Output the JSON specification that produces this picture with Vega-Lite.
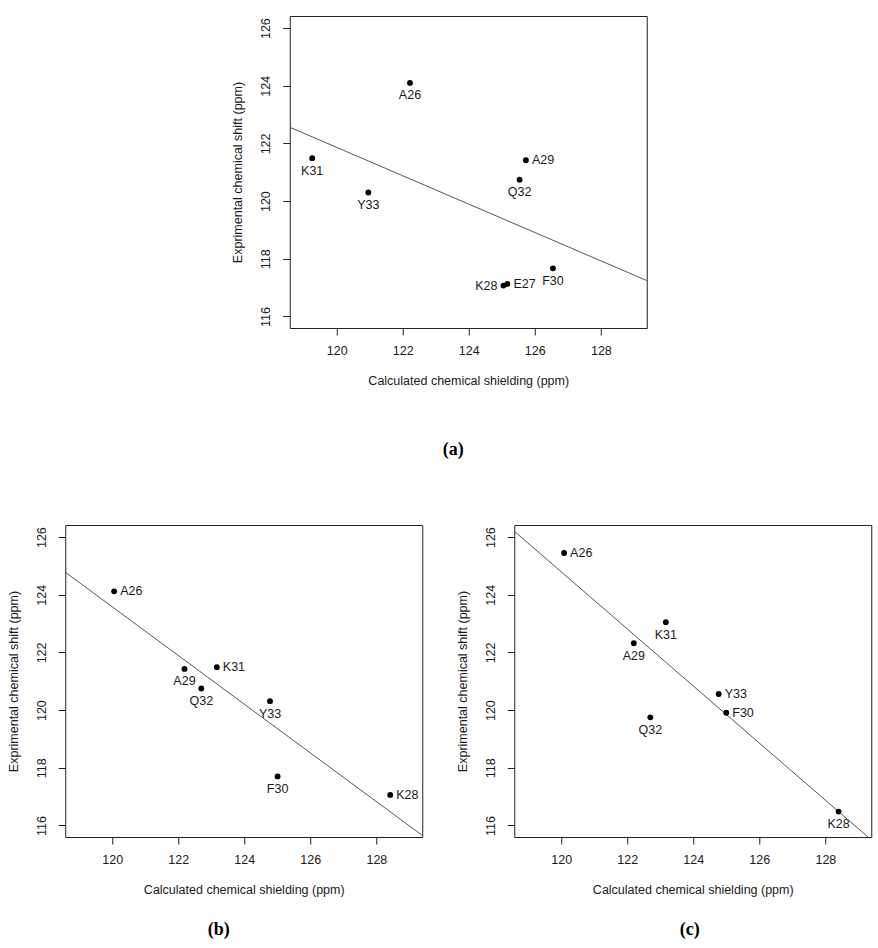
{
  "$schema": "https://vega.github.io/schema/vega-lite/v6.json",
  "padding": {"top": 15, "left": 6, "right": 4, "bottom": 4},
  "background": "white",
  "datasets": {
    "a": [
      {"res": "A26", "x": 122.22, "y": 124.10},
      {"res": "K31", "x": 119.26, "y": 121.49},
      {"res": "Y33", "x": 120.96, "y": 120.30},
      {"res": "A29", "x": 125.73, "y": 121.42},
      {"res": "Q32", "x": 125.54, "y": 120.74},
      {"res": "F30", "x": 126.55, "y": 117.67},
      {"res": "K28", "x": 125.05, "y": 117.07},
      {"res": "E27", "x": 125.17, "y": 117.13}
    ],
    "b": [
      {"res": "A26", "x": 120.06, "y": 124.12},
      {"res": "A29", "x": 122.19, "y": 121.43},
      {"res": "K31", "x": 123.17, "y": 121.49},
      {"res": "Q32", "x": 122.70, "y": 120.75},
      {"res": "Y33", "x": 124.78, "y": 120.31},
      {"res": "F30", "x": 125.01, "y": 117.70},
      {"res": "K28", "x": 128.42, "y": 117.06}
    ],
    "c": [
      {"res": "A26", "x": 120.09, "y": 125.45},
      {"res": "K31", "x": 123.17, "y": 123.05},
      {"res": "A29", "x": 122.20, "y": 122.32},
      {"res": "Y33", "x": 124.77, "y": 120.56},
      {"res": "F30", "x": 125.00, "y": 119.91},
      {"res": "Q32", "x": 122.70, "y": 119.75},
      {"res": "K28", "x": 128.40, "y": 116.48}
    ]
  },
  "vconcat": [
    {
      "width": 357,
      "height": 312,
      "data": {"name": "a"},
      "title": {"text": "(a)", "orient": "bottom", "anchor": "middle", "frame": "group", "dx": -15, "offset": 54, "baseline": "top"},
      "encoding": {
        "x": {"field": "x", "type": "quantitative", "scale": {"domain": [118.58, 129.39], "nice": false, "zero": false}, "axis": {"values": [120, 122, 124, 126, 128], "title": "Calculated chemical shielding (ppm)"}},
        "y": {"field": "y", "type": "quantitative", "scale": {"domain": [115.6, 126.42], "nice": false, "zero": false}, "axis": {"values": [116, 118, 120, 122, 124, 126], "title": "Exprimental chemical shift (ppm)"}}
      },
      "layer": [
        {"transform": [{"regression": "y", "on": "x", "extent": [118.58, 129.39]}], "mark": {"type": "line", "clip": true, "color": "#555555", "strokeWidth": 1}},
        {"mark": {"type": "circle", "size": 34, "color": "#000000", "opacity": 1}},
        {"transform": [{"filter": {"field": "res", "oneOf": ["A26", "K31", "Y33", "Q32", "F30"]}}], "mark": {"type": "text", "dy": 12.5, "align": "center", "baseline": "middle"}, "encoding": {"text": {"field": "res"}}},
        {"transform": [{"filter": {"field": "res", "oneOf": ["A29", "E27"]}}], "mark": {"type": "text", "dx": 6, "align": "left", "baseline": "middle"}, "encoding": {"text": {"field": "res"}}},
        {"transform": [{"filter": {"field": "res", "oneOf": ["K28"]}}], "mark": {"type": "text", "dx": -6, "align": "right", "baseline": "middle"}, "encoding": {"text": {"field": "res"}}}
      ]
    },
    {
      "spacing": 32,
      "hconcat": [
        {
          "width": 357,
          "height": 312,
          "data": {"name": "b"},
          "title": {"text": "(b)", "orient": "bottom", "anchor": "middle", "frame": "group", "dx": -25, "offset": 25, "baseline": "top"},
          "encoding": {
            "x": {"field": "x", "type": "quantitative", "scale": {"domain": [118.58, 129.39], "nice": false, "zero": false}, "axis": {"values": [120, 122, 124, 126, 128], "title": "Calculated chemical shielding (ppm)"}},
            "y": {"field": "y", "type": "quantitative", "scale": {"domain": [115.6, 126.42], "nice": false, "zero": false}, "axis": {"values": [116, 118, 120, 122, 124, 126], "title": "Exprimental chemical shift (ppm)"}}
          },
          "layer": [
            {"transform": [{"regression": "y", "on": "x", "extent": [118.58, 129.39]}], "mark": {"type": "line", "clip": true, "color": "#555555", "strokeWidth": 1}},
            {"mark": {"type": "circle", "size": 34, "color": "#000000", "opacity": 1}},
            {"transform": [{"filter": {"field": "res", "oneOf": ["A29", "Q32", "Y33", "F30"]}}], "mark": {"type": "text", "dy": 12.5, "align": "center", "baseline": "middle"}, "encoding": {"text": {"field": "res"}}},
            {"transform": [{"filter": {"field": "res", "oneOf": ["A26", "K31", "K28"]}}], "mark": {"type": "text", "dx": 6, "align": "left", "baseline": "middle"}, "encoding": {"text": {"field": "res"}}}
          ]
        },
        {
          "width": 357,
          "height": 312,
          "data": {"name": "c"},
          "title": {"text": "(c)", "orient": "bottom", "anchor": "middle", "frame": "group", "dx": -3, "offset": 25, "baseline": "top"},
          "encoding": {
            "x": {"field": "x", "type": "quantitative", "scale": {"domain": [118.58, 129.39], "nice": false, "zero": false}, "axis": {"values": [120, 122, 124, 126, 128], "title": "Calculated chemical shielding (ppm)"}},
            "y": {"field": "y", "type": "quantitative", "scale": {"domain": [115.6, 126.42], "nice": false, "zero": false}, "axis": {"values": [116, 118, 120, 122, 124, 126], "title": "Exprimental chemical shift (ppm)"}}
          },
          "layer": [
            {"transform": [{"regression": "y", "on": "x", "extent": [118.58, 129.39]}], "mark": {"type": "line", "clip": true, "color": "#555555", "strokeWidth": 1}},
            {"mark": {"type": "circle", "size": 34, "color": "#000000", "opacity": 1}},
            {"transform": [{"filter": {"field": "res", "oneOf": ["K31", "A29", "Q32", "K28"]}}], "mark": {"type": "text", "dy": 12.5, "align": "center", "baseline": "middle"}, "encoding": {"text": {"field": "res"}}},
            {"transform": [{"filter": {"field": "res", "oneOf": ["A26", "Y33", "F30"]}}], "mark": {"type": "text", "dx": 6, "align": "left", "baseline": "middle"}, "encoding": {"text": {"field": "res"}}}
          ]
        }
      ]
    }
  ],
  "spacing": 64,
  "center": true,
  "config": {
    "font": "Liberation Sans",
    "view": {"stroke": "#222222", "strokeWidth": 1},
    "text": {"font": "Liberation Sans", "fontSize": 12.5, "color": "#1a1a1a"},
    "title": {"font": "Liberation Serif", "fontSize": 18, "fontWeight": "bold", "color": "#000000"},
    "axis": {
      "grid": false,
      "domain": false,
      "ticks": true,
      "tickColor": "#222222",
      "tickSize": 7,
      "labelFont": "Liberation Sans",
      "labelFontSize": 12.5,
      "labelColor": "#1a1a1a",
      "titleFont": "Liberation Sans",
      "titleFontSize": 12.5,
      "titleFontWeight": "normal",
      "titleColor": "#1a1a1a"
    },
    "axisX": {"labelPadding": 9, "titlePadding": 18},
    "axisY": {"labelAngle": -90, "labelAlign": "center", "labelBaseline": "bottom", "labelPadding": 10, "titlePadding": 15}
  }
}
